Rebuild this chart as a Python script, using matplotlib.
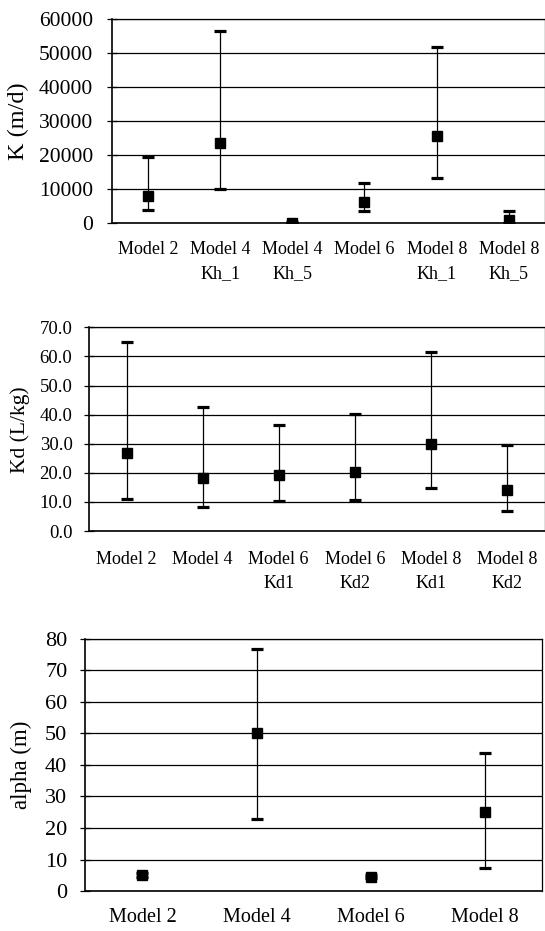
import matplotlib
matplotlib.use("Agg")
import matplotlib.pyplot as plt
import numpy as np

plt.rcParams['font.family'] = ['Liberation Serif', 'DejaVu Serif']

# Hydraulic conductivity estimates with confidence limits
k_labels = ["Model 2", "Model 4\nKh_1", "Model 4\nKh_5", "Model 6", "Model 8\nKh_1", "Model 8\nKh_5"]
k_mean = [8000, 23600, 200, 6300, 25800, 1000]
k_low = [3900, 10050, 150, 3600, 13200, 200]
k_high = [19500, 56600, 250, 11900, 51900, 3600]

# Distribution coefficient estimates
kd_labels = ["Model 2", "Model 4", "Model 6\nKd1", "Model 6\nKd2", "Model 8\nKd1", "Model 8\nKd2"]
kd_mean = [26.9, 18.3, 19.4, 20.3, 29.8, 14.1]
kd_low = [10.9, 8.1, 10.3, 10.7, 14.8, 6.8]
kd_high = [64.8, 42.7, 36.4, 40.3, 61.6, 29.4]

# Dispersivity estimates
a_labels = ["Model 2", "Model 4", "Model 6", "Model 8"]
a_mean = [5.0, 50.0, 4.6, 25.0]
a_low = [4.4, 22.9, 4.2, 7.2]
a_high = [5.6, 76.7, 5.0, 43.7]

fig = plt.figure(figsize=(5.45, 9.31), dpi=100)


def panel(rect, labels, mean, low, high, yticks, fmt, ylabel,
          tick_fs, tick_pad, cat_fs, cat_pad, lab_fs, lab_x):
    ax = fig.add_axes(rect)
    n = len(labels)
    x = np.arange(1, n + 1)
    mean = np.asarray(mean, float)
    err = np.vstack([mean - np.asarray(low, float), np.asarray(high, float) - mean])
    ax.errorbar(x, mean, yerr=err, fmt='s', color='black', ms=7.3,
                ecolor='black', elinewidth=0.9, capsize=4.6, capthick=2.3, zorder=3)
    ax.set_xlim(0.5, n + 0.5)
    ax.set_ylim(yticks[0], yticks[-1])
    ax.set_yticks(yticks)
    ax.set_yticklabels([fmt.format(v) for v in yticks], fontsize=tick_fs)
    ax.set_xticks(x)
    ax.set_xticklabels(labels, fontsize=cat_fs, linespacing=1.5)
    ax.tick_params(axis='x', length=0, pad=cat_pad)
    ax.tick_params(axis='y', length=6.5, width=0.9, direction='inout', pad=tick_pad)
    ax.yaxis.grid(True, color='black', lw=0.9)
    ax.set_axisbelow(True)
    for s in ax.spines.values():
        s.set_color('black')
        s.set_linewidth(0.9)
    ax.spines['left'].set_linewidth(1.2)
    ax.spines['bottom'].set_linewidth(1.2)
    ax.set_ylabel(ylabel, fontsize=lab_fs)
    ax.yaxis.set_label_coords(lab_x, 0.5)
    return ax


panel([0.2051, 0.7601, 0.7949, 0.2194], k_labels, k_mean, k_low, k_high,
      [0, 10000, 20000, 30000, 40000, 50000, 60000], "{:.0f}", "K (m/d)",
      15.5, 10.4, 13, 13, 17.5, -0.191)
panel([0.1624, 0.4296, 0.8376, 0.2188], kd_labels, kd_mean, kd_low, kd_high,
      [0, 10, 20, 30, 40, 50, 60, 70], "{:.1f}", "Kd (L/kg)",
      13.5, 8.3, 13, 14.4, 15.5, -0.128)
panel([0.1565, 0.04296, 0.838, 0.2707], a_labels, a_mean, a_low, a_high,
      [0, 10, 20, 30, 40, 50, 60, 70, 80], "{:.0f}", "alpha (m)",
      16, 9.7, 14.5, 12, 16.5, -0.117)

fig.savefig("out.png", dpi=100, facecolor='white')
